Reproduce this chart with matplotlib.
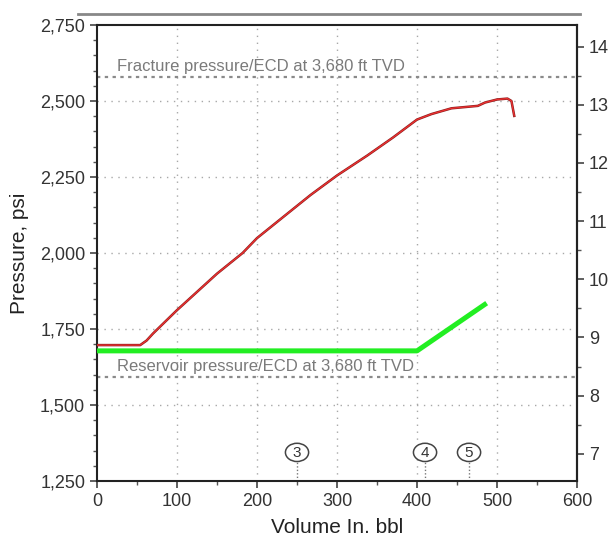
import matplotlib
matplotlib.use("Agg")
import matplotlib.pyplot as plt
from matplotlib.ticker import FuncFormatter, MultipleLocator
from matplotlib.lines import Line2D
from matplotlib.patches import Ellipse

plt.rcParams['font.family'] = ['Liberation Sans', 'DejaVu Sans']

# Pump-in pressure (red)
red_vol = [0, 54, 62, 70, 100, 150, 182, 200, 233, 267, 300, 338, 370, 400, 418, 443, 476, 485, 500, 513, 518, 521.5]
red_psi = [1697, 1697, 1712, 1735, 1812, 1932, 2000, 2049, 2119, 2191, 2255, 2321, 2380, 2439, 2457, 2476, 2484, 2495, 2505, 2508, 2500, 2451]

# Reference line (green)
green_vol = [0, 400, 487]
green_psi = [1678, 1678, 1835]

# Horizontal reference levels
frac_psi = 2580
res_psi = 1592
frac_label = "Fracture pressure/ECD at 3,680 ft TVD"
res_label = "Reservoir pressure/ECD at 3,680 ft TVD"

# Event markers
event_labels = ["3", "4", "5"]
event_vol = [250, 410, 465]

tvd = 3680
grad = 0.052 * tvd  # psi per ppg

fig = plt.figure(figsize=(6.10, 5.38), dpi=100)
ax = fig.add_axes([0.159, 0.106, 0.787, 0.8475])

ax.set_xlim(0, 600)
ax.set_ylim(1250, 2750)

# grid
for x in [100, 200, 300, 400, 500]:
    ax.axvline(x, color='#a8a8a8', lw=1.0, ls=(0, (1, 4)), zorder=1)
for y in [1500, 1750, 2000, 2250, 2500]:
    ax.axhline(y, color='#a8a8a8', lw=1.0, ls=(0, (1, 4)), zorder=1)

# fracture / reservoir levels
ax.axhline(frac_psi, color='#8a8a8a', lw=1.6, ls=(0, (1.5, 2)), zorder=1)
ax.axhline(res_psi, color='#8a8a8a', lw=1.6, ls=(0, (1.5, 2)), zorder=1)
ax.text(25, 2614, frac_label, color='#7a7a7a', fontsize=12, va='center', ha='left')
ax.text(25, 1628, res_label, color='#7a7a7a', fontsize=12, va='center', ha='left')

# curves
ax.plot(green_vol, green_psi, color='#22ee22', lw=3.6, solid_capstyle='butt', zorder=3)
ax.plot(red_vol, red_psi, color='#8a2020', lw=1.8, zorder=4)
ax.plot(red_vol, red_psi, color='#f03030', lw=0.9, zorder=5)

# event markers
for lab, v in zip(event_labels, event_vol):
    ax.plot([v, v], [1250, 1314], color='#777777', lw=1.0, ls=(0, (1, 1.5)), zorder=2)
    ax.add_patch(Ellipse((v, 1344), 29, 60, fc='white', ec='#444444', lw=1.1, zorder=6))
    ax.text(v, 1343, lab, fontsize=11, ha='center', va='center', color='#333333', zorder=7)

# ticks
ax.xaxis.set_major_locator(MultipleLocator(100))
ax.xaxis.set_minor_locator(MultipleLocator(50))
ax.yaxis.set_major_locator(MultipleLocator(250))
ax.yaxis.set_minor_locator(MultipleLocator(50))
ax.yaxis.set_major_formatter(FuncFormatter(lambda v, p: f"{int(v):,}"))
ax.tick_params(which='major', direction='out', length=5, width=1.2, labelsize=13,
               colors='#444444', labelcolor='#333333')
ax.tick_params(which='minor', direction='out', length=3, width=1.0, colors='#555555')

for s in ax.spines.values():
    s.set_color('#222222')
    s.set_linewidth(1.5)

sec = ax.secondary_yaxis('right', functions=(lambda p: p / grad, lambda g: g * grad))
sec.yaxis.set_major_locator(MultipleLocator(1))
sec.yaxis.set_minor_locator(MultipleLocator(0.5))
sec.yaxis.set_major_formatter(FuncFormatter(lambda v, p: f"{v:.0f}"))
sec.tick_params(which='major', direction='out', length=5, width=1.2, labelsize=13,
                colors='#444444', labelcolor='#333333')
sec.tick_params(which='minor', direction='out', length=3, width=1.0, colors='#555555')
sec.spines['right'].set_color('#222222')
sec.spines['right'].set_linewidth(1.5)

ax.set_ylabel("Pressure, psi", fontsize=15, color='#222222', labelpad=8)
ax.set_xlabel("Volume In. bbl", fontsize=15, color='#222222', labelpad=6)

# grey rule above the plot
fig.add_artist(Line2D([78 / 610, 580 / 610], [1 - 14 / 538, 1 - 14 / 538],
                      color='#888888', lw=2.0, transform=fig.transFigure))

fig.savefig("out.png", dpi=100)
